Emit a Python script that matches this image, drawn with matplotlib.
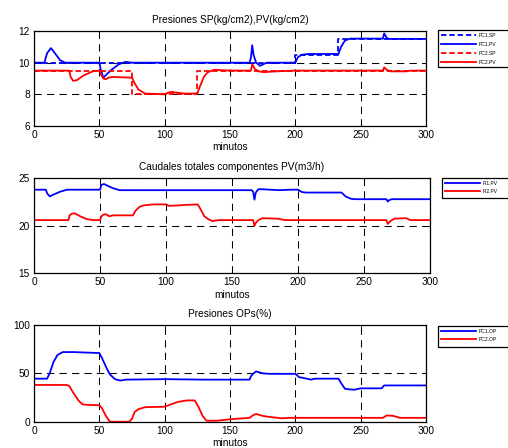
import matplotlib
matplotlib.use("Agg")
import matplotlib.pyplot as plt
from matplotlib.patches import Rectangle

plt.rcParams['font.family'] = ['Liberation Sans', 'DejaVu Sans']

# ---------------- data ----------------
minutes_ticks = [0, 50, 100, 150, 200, 250, 300]

# Top: Presiones SP / PV (kg/cm2)
pc1_sp_t = [0, 200, 200, 233, 233, 300]
pc1_sp_v = [10, 10, 10.5, 10.5, 11.5, 11.5]

pc1_pv_t = [0, 8, 10, 13, 16, 20, 24, 50, 51, 53, 56, 60, 65, 70, 75,
            165, 166, 167, 168, 170, 173, 178, 200, 202, 205, 210, 233,
            235, 238, 242, 267, 268, 270, 272, 300]
pc1_pv_v = [10, 10, 10.6, 10.92, 10.6, 10.15, 10, 10, 9.6, 9.05, 9.3, 9.6,
            9.9, 10.05, 10, 10, 10.3, 11.1, 10.5, 10, 9.8, 10, 10, 10.35,
            10.5, 10.55, 10.55, 11.0, 11.4, 11.52, 11.52, 11.85, 11.55,
            11.5, 11.5]

pc2_sp_t = [0, 75, 75, 125, 125, 300]
pc2_sp_v = [9.5, 9.5, 8, 8, 9.5, 9.5]

pc2_pv_t = [0, 27, 28, 30, 33, 38, 45, 50, 51, 53, 55, 57, 60, 75, 77, 80,
            85, 100, 103, 106, 110, 115, 125, 127, 130, 133, 138, 145, 150,
            166, 167, 169, 172, 176, 185, 200, 267, 268, 270, 273, 285,
            288, 300]
pc2_pv_v = [9.5, 9.5, 9.1, 8.85, 8.9, 9.2, 9.45, 9.5, 9.3, 9.0, 8.95, 9.05,
            9.1, 9.05, 8.7, 8.3, 8.05, 8.0, 8.12, 8.15, 8.1, 8.05, 8.05,
            8.5, 9.1, 9.4, 9.55, 9.52, 9.5, 9.5, 9.9, 9.6, 9.45, 9.4, 9.45,
            9.5, 9.5, 9.7, 9.55, 9.45, 9.45, 9.5, 9.5]

# Middle: Caudales totales componentes PV (m3/h)
fi1_t = [0, 9, 10, 12, 15, 20, 25, 50, 51, 53, 56, 60, 65, 165, 166, 167,
         168, 170, 173, 185, 195, 200, 203, 206, 233, 236, 240, 243, 267,
         268, 269, 271, 300]
fi1_v = [23.8, 23.8, 23.4, 23.1, 23.3, 23.6, 23.8, 23.8, 24.3, 24.4, 24.2,
         23.95, 23.75, 23.75, 23.6, 22.75, 23.5, 23.85, 23.85, 23.75, 23.8,
         23.8, 23.55, 23.5, 23.5, 23.1, 22.85, 22.8, 22.8, 22.55, 22.7,
         22.8, 22.8]

fi2_t = [0, 26, 27, 29, 31, 35, 40, 45, 50, 51, 53, 55, 57, 60, 75, 77, 80,
         83, 90, 100, 102, 110, 115, 124, 126, 129, 132, 135, 140, 166, 167,
         168, 170, 173, 185, 190, 267, 268, 270, 273, 282, 285, 300]
fi2_v = [20.6, 20.6, 21.1, 21.3, 21.3, 21.0, 20.7, 20.6, 20.6, 21.0, 21.2,
         21.2, 21.0, 21.1, 21.1, 21.6, 22.0, 22.15, 22.25, 22.25, 22.1,
         22.15, 22.2, 22.25, 21.8, 21.0, 20.7, 20.5, 20.6, 20.6, 20.0,
         20.3, 20.6, 20.8, 20.75, 20.6, 20.6, 20.2, 20.5, 20.75, 20.8,
         20.6, 20.6]

# Bottom: Presiones OPs (%)
op1_t = [0, 10, 12, 15, 18, 22, 30, 40, 50, 52, 55, 58, 62, 66, 70, 100,
         130, 165, 166, 168, 170, 175, 180, 200, 203, 207, 212, 215, 233,
         235, 238, 245, 250, 266, 268, 300]
op1_v = [44.5, 44.5, 50, 62, 69, 72, 72, 71.5, 71, 66, 57, 49, 44, 42.5,
         43.5, 44, 43.5, 43.5, 47, 50, 52, 50, 49.5, 49.5, 46, 45, 43.5,
         44.5, 44.5, 40, 34, 33, 34.5, 34.5, 37.5, 37.5]

op2_t = [0, 25, 27, 30, 34, 37, 40, 50, 52, 55, 58, 73, 75, 77, 80, 85, 100,
         105, 110, 117, 123, 126, 129, 132, 140, 150, 160, 165, 168, 170,
         175, 180, 190, 195, 200, 267, 270, 275, 280, 300]
op2_v = [38, 38, 37, 30, 22, 18, 17.5, 17, 14, 6, 0, 0, 3, 10, 13, 15, 15.5,
         18, 20.5, 22, 22, 15, 6, 1, 1, 2.5, 3.5, 4, 7, 8, 6, 5, 3.5, 4, 4,
         4, 6.5, 6, 4, 4]

# ---------------- figure ----------------
W, H = 508, 448
fig = plt.figure(figsize=(W / 100, H / 100), dpi=100)

def fx(px):
    return px / W

def fy(py):
    return 1 - py / H

ax1 = fig.add_axes([fx(34), fy(126), fx(426) - fx(34), (126 - 31) / H])
ax2 = fig.add_axes([fx(34), fy(273.3), fx(430) - fx(34), (273.3 - 178.3) / H])
ax3 = fig.add_axes([fx(34), fy(421.7), fx(426) - fx(34), (421.7 - 325) / H])

FS = 7.3
LW = 1.3
SPDASH = (0, (3.0, 1.6))

ax1.plot(pc1_sp_t, pc1_sp_v, color='blue', lw=LW, linestyle=SPDASH, label='PC1.SP')
ax1.plot(pc1_pv_t, pc1_pv_v, color='blue', lw=LW, label='PC1.PV')
ax1.plot(pc2_sp_t, pc2_sp_v, color='red', lw=LW, linestyle=SPDASH, label='PC2.SP')
ax1.plot(pc2_pv_t, pc2_pv_v, color='red', lw=LW, label='PC2.PV')
ax1.set_ylim(6, 12)
ax1.set_yticks([6, 8, 10, 12])
ax1.set_title('Presiones SP(kg/cm2),PV(kg/cm2)', fontsize=FS, pad=6)

ax2.plot(fi1_t, fi1_v, color='blue', lw=LW, label='FI1.PV')
ax2.plot(fi2_t, fi2_v, color='red', lw=LW, label='FI2.PV')
ax2.set_ylim(15, 25)
ax2.set_yticks([15, 20, 25])
ax2.set_title('Caudales totales componentes PV(m3/h)', fontsize=FS, pad=6)

ax3.plot(op1_t, op1_v, color='blue', lw=LW, label='PC1.OP')
ax3.plot(op2_t, op2_v, color='red', lw=LW, label='PC2.OP')
ax3.set_ylim(0, 100)
ax3.set_yticks([0, 50, 100])
ax3.set_title('Presiones OPs(%)', fontsize=FS, pad=6)

for ax in (ax1, ax2, ax3):
    ax.set_xlim(0, 300)
    ax.set_xticks(minutes_ticks)
    ax.set_xlabel('minutos', fontsize=FS, labelpad=1.5)
    ax.tick_params(direction='in', top=True, right=True, length=3,
                   width=0.6, labelsize=FS, pad=3)
    ax.grid(True, color='k', linewidth=0.75, linestyle=(0, (7, 5)))
    for s in ax.spines.values():
        s.set_linewidth(0.9)
        s.set_color('k')


def add_legend(ax, x_px, y_top, y_bot, spacing):
    # frame box (extends past the right edge of the figure, as in the original)
    fig.patches.append(Rectangle((fx(x_px), fy(y_bot)), fx(W + 20) - fx(x_px),
                                 (y_bot - y_top) / H, transform=fig.transFigure,
                                 facecolor='white', edgecolor='k', linewidth=0.9,
                                 zorder=1))
    h, l = ax.get_legend_handles_labels()
    leg = fig.legend(h, l, loc='upper left',
                     bbox_to_anchor=(fx(x_px), fy(y_top)),
                     bbox_transform=fig.transFigure, borderaxespad=0,
                     fontsize=3.6, handlelength=7.0, handletextpad=0.6,
                     labelspacing=spacing, borderpad=0.6, frameon=False)
    leg.set_zorder(5)
    return leg


add_legend(ax1, 438, 30, 67, 0.8)
add_legend(ax2, 442, 178, 198, 0.6)
add_legend(ax3, 438, 326, 347, 0.6)

fig.savefig('out.png', dpi=100)
